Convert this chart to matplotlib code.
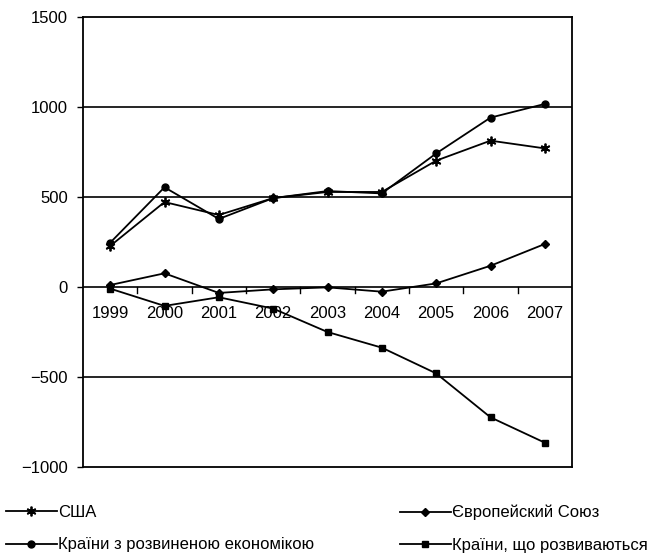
import matplotlib
matplotlib.use("Agg")
import matplotlib.pyplot as plt
from matplotlib.ticker import FixedLocator

plt.rcParams['font.family'] = ['Liberation Sans', 'DejaVu Sans']

years = ['1999', '2000', '2001', '2002', '2003', '2004', '2005', '2006', '2007']
usa = [228, 472, 400, 494, 528, 528, 702, 813, 770]
developed = [246, 554, 378, 494, 533, 520, 742, 941, 1017]
eu = [11, 76, -33, -13, -2, -26, 20, 118, 239]
developing = [-9, -105, -57, -120, -250, -337, -480, -724, -865]
yticks = [-1000, -500, 0, 500, 1000, 1500]
ytick_labels = ['\u22121000', '\u2212500', '0', '500', '1000', '1500']

FS = 12

fig = plt.figure(figsize=(6.67, 5.53), dpi=100)
ax = fig.add_axes([83/667, 1-467/553, (572-83)/667, (467-17)/553])

x = list(range(len(years)))
lw = 1.3
l_usa, = ax.plot(x, usa, color='black', lw=lw, marker=(6, 2, 0), ms=7, mew=1.3, label='США')
l_dev, = ax.plot(x, developed, color='black', lw=lw, marker='o', ms=5, label='Країни з розвиненою економікою')
l_eu, = ax.plot(x, eu, color='black', lw=lw, marker='D', ms=4.5, label='Європейский Союз')
l_dvg, = ax.plot(x, developing, color='black', lw=lw, marker='s', ms=5, label='Країни, що розвиваються')

ax.set_xlim(-0.5, len(years) - 0.5)
ax.set_ylim(-1000, 1500)
for v in [500, 1000, -500]:
    ax.axhline(v, color='black', lw=1.2, zorder=0)

# zero line acting as category axis
ax.axhline(0, color='black', lw=1.2, zorder=0)
ax.set_xticks([])
for k in range(1, len(years)):
    ax.plot([k - 0.5, k - 0.5], [0, -35], color='black', lw=1.0, zorder=0, clip_on=False)
for i, yr in enumerate(years):
    ax.text(i, -105, yr, ha='center', va='top', fontsize=FS)

ax.yaxis.set_major_locator(FixedLocator(yticks))
ax.set_yticklabels(ytick_labels, fontsize=FS)
ax.tick_params(axis='y', direction='out', length=4.3, width=1.0, pad=6.5)

for s in ax.spines.values():
    s.set_linewidth(1.3)
    s.set_color('black')

common = dict(frameon=False, fontsize=FS, handlelength=3.05, handletextpad=0.1,
              labelspacing=1.05, borderpad=0, borderaxespad=0, loc='upper left')
leg1 = fig.legend(handles=[l_usa, l_dev], bbox_to_anchor=(6/667, 1-505/553), **common)
leg2 = fig.legend(handles=[l_eu, l_dvg], bbox_to_anchor=(400/667, 1-505/553), **common)

fig.savefig('out.png', dpi=100)
